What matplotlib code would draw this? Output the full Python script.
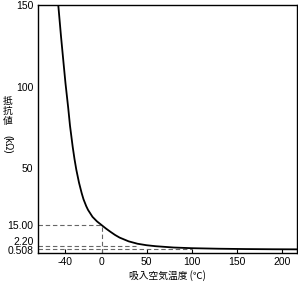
import matplotlib
matplotlib.use("Agg")
import matplotlib.pyplot as plt
from matplotlib.transforms import ScaledTranslation

temps = [-48, -45, -42, -40, -37, -35, -32, -30, -28, -25, -22, -20, -17, -15, -10, -5,
         0, 5, 10, 15, 20, 30, 40, 50, 60, 80, 100, 130, 160, 190, 217]
resist = [150, 131, 113.5, 102, 87, 76, 63, 55.5, 49, 41, 34.5, 30.8, 26.6, 24.3, 20.0, 17.2,
          15, 12.8, 10.8, 8.9, 7.3, 5.0, 3.5, 2.6, 2.0, 1.2, 0.78, 0.45, 0.25, 0.13, 0.07]

ref_vals = [15.00, 2.20, 0.508]
ref_labels = ["15.00", "2.20", "0.508"]
ref_ends = [0, 38, 100]

xticks = [-40, 0, 50, 100, 150, 200]
yticks = [150, 100, 50]

plt.rcParams['font.family'] = ['Liberation Sans', 'Noto Sans CJK JP', 'DejaVu Sans']

fig = plt.figure(figsize=(2.98, 2.83), dpi=100)
ax = fig.add_axes([0.126, 0.107, 0.871, 0.875])

xmin, xmax = -71, 217
ymin, ymax = -2, 150

for v, e in zip(ref_vals, ref_ends):
    ax.plot([xmin, e], [v, v], color='#666666', lw=0.8, ls=(0, (4, 2.5)))
ax.plot([0, 0], [ymin, ref_vals[0]], color='#666666', lw=0.8, ls=(0, (4, 2.5)))

ax.plot(temps, resist, color='black', lw=1.3)

ax.set_xlim(xmin, xmax)
ax.set_ylim(ymin, ymax)
ax.set_xticks(xticks)
ax.set_xticklabels([str(t) for t in xticks])
ax.set_yticks(yticks + ref_vals)
ax.set_yticklabels([str(t) for t in yticks] + ref_labels)
ax.tick_params(axis='both', labelsize=7.5, length=3, width=0.8, direction='in', pad=3)
ax.tick_params(axis='y', length=0, pad=3)

offsets = {"2.20": 5, "0.508": -1.5}
for lab in ax.get_yticklabels():
    t = lab.get_text()
    if t in offsets:
        lab.set_transform(lab.get_transform() + ScaledTranslation(0, offsets[t] / 100, fig.dpi_scale_trans))

for s in ax.spines.values():
    s.set_linewidth(1.0)

ax.set_xlabel('吸入空気温度 (℃)', fontsize=7, labelpad=2.5,
              family=['Noto Sans CJK JP', 'DejaVu Sans'])

fig.text(7.5 / 298, 1 - 111 / 283, '抵\n抗\n値', fontsize=7, ha='center', va='center',
         linespacing=1.0, family=['Noto Sans CJK JP', 'DejaVu Sans'])
fig.text(7.5 / 298, 1 - 144 / 283, '(kΩ)', fontsize=7, ha='center', va='center',
         rotation=-90, family=['Liberation Sans', 'DejaVu Sans'])

fig.savefig('out.png', dpi=100)
